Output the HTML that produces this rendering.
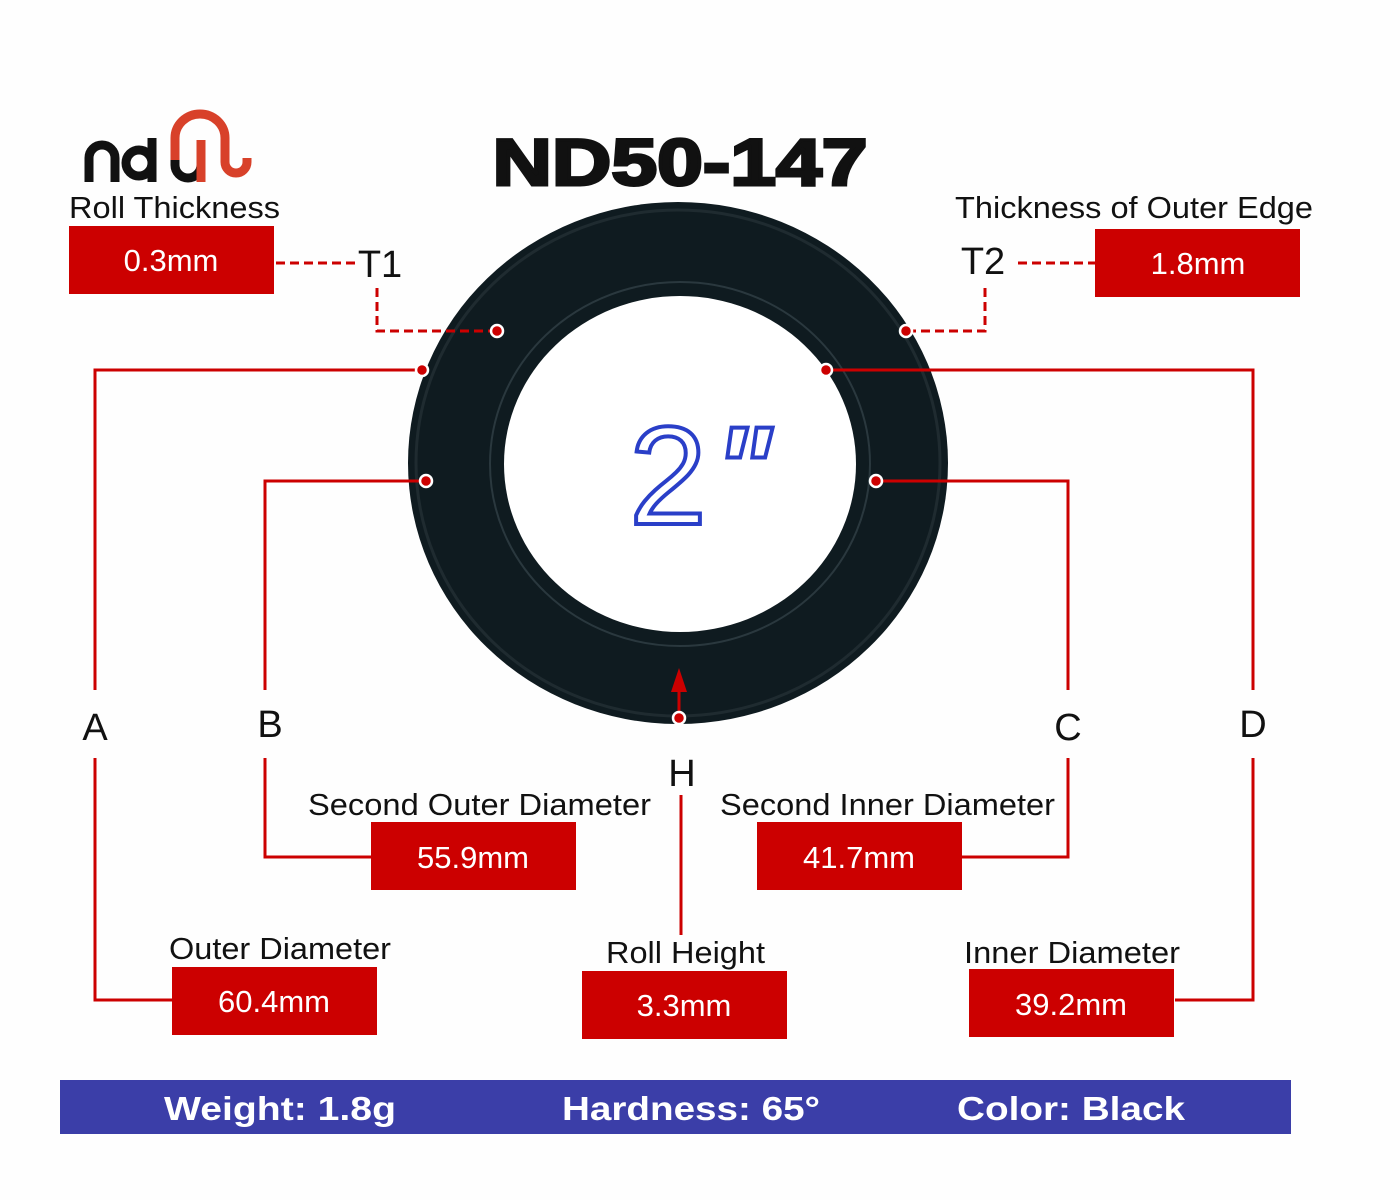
<!DOCTYPE html>
<html><head><meta charset="utf-8"><style>
html,body{margin:0;padding:0;background:#fff;}
svg{display:block;}
text{font-family:"Liberation Sans",sans-serif;}
</style></head><body>
<svg width="1400" height="1200" viewBox="0 0 1400 1200" xmlns="http://www.w3.org/2000/svg">
<rect width="1400" height="1200" fill="#fefefe"/>
<g fill="none" stroke-width="9" stroke-linecap="butt">
<path d="M89 182 V158 a13 13 0 0 1 26 0 V182" stroke="#111"/>
<circle cx="139" cy="163" r="13" stroke="#111"/>
<path d="M152 138 V182" stroke="#111"/>
<path d="M175 160 V165 a13 13 0 0 0 26 0" stroke="#111"/>
<path d="M175 160 V138 a25 24 0 0 1 50 0 V162 a11 11 0 0 0 22 0 V158" stroke="#d8412a"/>
<path d="M201 140 V182" stroke="#d8412a"/>
</g>
<text x="680" y="185" font-size="66" font-weight="900" text-anchor="middle" fill="#111" textLength="375" lengthAdjust="spacingAndGlyphs" stroke="#111" stroke-width="3">ND50-147</text>
<ellipse cx="678" cy="463" rx="270" ry="261" fill="#0f1b20"/>
<ellipse cx="678" cy="463" rx="262" ry="253" fill="none" stroke="#1f2b30" stroke-width="3"/>
<ellipse cx="680" cy="464" rx="190" ry="182" fill="none" stroke="#2a383e" stroke-width="2"/>
<ellipse cx="680" cy="464" rx="176" ry="168" fill="#fff"/>
<text x="668" y="524" font-size="140" text-anchor="middle" fill="#fff" stroke="#2a3fc8" stroke-width="4">2</text>
<text x="743" y="510" font-size="120" font-style="italic" font-weight="bold" text-anchor="middle" fill="#fff" stroke="#2a3fc8" stroke-width="4">"</text>
<g stroke="#cc0000" stroke-width="3" fill="none">
<path d="M276 263 H355 M377 288 V331 H497 M1018 263 H1095 M985 288 V331 H906" stroke-dasharray="9 5"/>
<path d="M422 370 H95 V690 M95 758 V1000 H172"/>
<path d="M426 481 H265 V690 M265 758 V857 H371"/>
<path d="M826 370 H1253 V690 M1253 758 V1000 H1175"/>
<path d="M876 481 H1068 V690 M1068 758 V857 H962"/>
<path d="M681 795 V935"/>
<path d="M679 718 V690"/>
</g>
<polygon points="679,668 671,692 687,692" fill="#cc0000"/>
<g fill="#cc0000" stroke="#fff" stroke-width="2.5">
<circle cx="497" cy="331" r="6"/><circle cx="906" cy="331" r="6"/>
<circle cx="422" cy="370" r="6"/><circle cx="826" cy="370" r="6"/>
<circle cx="426" cy="481" r="6"/><circle cx="876" cy="481" r="6"/>
<circle cx="679" cy="718" r="6"/>
</g>
<g font-size="31" fill="#111">
<text x="69" y="218" textLength="211" lengthAdjust="spacingAndGlyphs">Roll Thickness</text>
<text x="955" y="218" textLength="358" lengthAdjust="spacingAndGlyphs">Thickness of Outer Edge</text>
<text x="308" y="815" textLength="343" lengthAdjust="spacingAndGlyphs">Second Outer Diameter</text>
<text x="720" y="815" textLength="335" lengthAdjust="spacingAndGlyphs">Second Inner Diameter</text>
<text x="169" y="959" textLength="222" lengthAdjust="spacingAndGlyphs">Outer Diameter</text>
<text x="606" y="963" textLength="159" lengthAdjust="spacingAndGlyphs">Roll Height</text>
<text x="964" y="963" textLength="216" lengthAdjust="spacingAndGlyphs">Inner Diameter</text>
</g>
<g font-size="38" fill="#111" text-anchor="middle">
<text x="380" y="277">T1</text>
<text x="983" y="274">T2</text>
<text x="95" y="740">A</text>
<text x="270" y="737">B</text>
<text x="1068" y="740">C</text>
<text x="1253" y="737">D</text>
<text x="682" y="786">H</text>
</g>
<g fill="#cc0000">
<rect x="69" y="226" width="205" height="68"/>
<rect x="1095" y="229" width="205" height="68"/>
<rect x="371" y="822" width="205" height="68"/>
<rect x="757" y="822" width="205" height="68"/>
<rect x="172" y="967" width="205" height="68"/>
<rect x="582" y="971" width="205" height="68"/>
<rect x="969" y="969" width="205" height="68"/>
</g>
<g font-size="31" fill="#fff" text-anchor="middle">
<text x="171" y="271">0.3mm</text>
<text x="1198" y="274">1.8mm</text>
<text x="473" y="868">55.9mm</text>
<text x="859" y="868">41.7mm</text>
<text x="274" y="1012">60.4mm</text>
<text x="684" y="1016">3.3mm</text>
<text x="1071" y="1015">39.2mm</text>
</g>
<rect x="60" y="1080" width="1231" height="54" fill="#3b3ea8"/>
<g font-size="33" font-weight="bold" fill="#fff">
<text x="164" y="1120" textLength="232" lengthAdjust="spacingAndGlyphs">Weight: 1.8g</text>
<text x="562" y="1120" textLength="258" lengthAdjust="spacingAndGlyphs">Hardness: 65°</text>
<text x="957" y="1120" textLength="228" lengthAdjust="spacingAndGlyphs">Color: Black</text>
</g>
</svg>
</body></html>
